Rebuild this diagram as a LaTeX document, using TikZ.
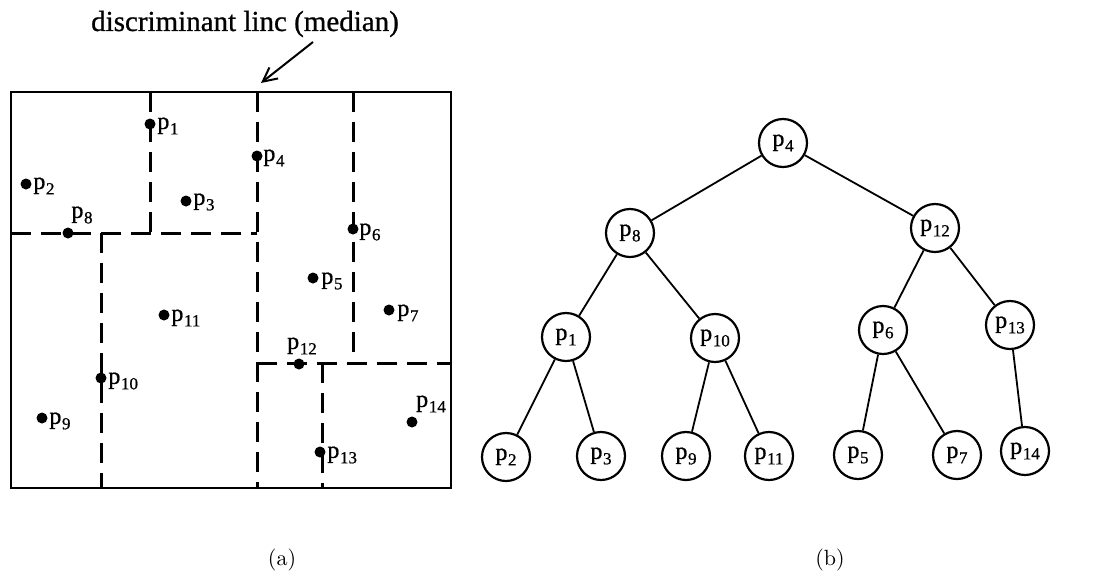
\documentclass[tikz,border=0pt]{standalone}
\usepackage{fontspec}
\usetikzlibrary{arrows.meta}
\setmainfont{Liberation Serif}
\newfontfamily\scanfont[FakeBold=0.8]{Liberation Serif}
\newfontfamily\capfont{Latin Modern Roman}
\newcommand{\pl}[1]{p\kern0.3pt\raisebox{-0.5ex}{\fontsize{8.5}{9}\selectfont #1}}
\begin{document}
\begin{tikzpicture}[x=0.5pt,y=-0.5pt,
  frame/.style={line width=1.1pt},
  split/.style={line width=1.5pt, dash pattern=on 10pt off 5pt},
  pt/.style={circle, fill=black, inner sep=0pt, minimum size=5.5pt},
  plab/.style={font=\scanfont\fontsize{12}{13}\selectfont, inner sep=1pt},
  tn/.style={circle, draw, line width=1.1pt, minimum size=24pt, inner sep=0pt, font=\scanfont\fontsize{12}{13}\selectfont},
  treeedge/.style={line width=0.9pt},
  captext/.style={font=\capfont\fontsize{11}{12}\selectfont}]
\useasboundingbox (0,0) rectangle (1099,580);
% ---------- (a) ----------
\coordinate (TL) at (11,92);
\coordinate (BR) at (451,488);
\draw[frame] (TL) rectangle (BR);
\coordinate (m1) at (257,92);  \coordinate (m2) at (257,488);
\coordinate (a1) at (150,92);  \coordinate (a2) at (150,233);
\coordinate (h1) at (11,233);  \coordinate (h2) at (257,233);
\coordinate (b1) at (101,233); \coordinate (b2) at (101,488);
\coordinate (c1) at (353,92);  \coordinate (c2) at (353,363);
\coordinate (g1) at (257,363); \coordinate (g2) at (451,363);
\coordinate (d1) at (322,363); \coordinate (d2) at (322,488);
\draw[split] (m1) -- (m2);
\draw[split] (a1) -- (a2);
\draw[split] (h1) -- (h2);
\draw[split] (b1) -- (b2);
\draw[split] (c1) -- (c2);
\draw[split] (g1) -- (g2);
\draw[split] (d1) -- (d2);
% points
\node[pt] (q1) at (150,124) {};
\node[pt] (q2) at (26,184) {};
\node[pt] (q3) at (186,201) {};
\node[pt] (q4) at (257,156) {};
\node[pt] (q5) at (313,278) {};
\node[pt] (q6) at (353,229) {};
\node[pt] (q7) at (389,310) {};
\node[pt] (q8) at (68,233) {};
\node[pt] (q9) at (42,418) {};
\node[pt] (q10) at (101,378) {};
\node[pt] (q11) at (164,315) {};
\node[pt] (q12) at (299,364) {};
\node[pt] (q13) at (320,452) {};
\node[pt] (q14) at (412,422) {};
\node[plab, anchor=west] (l1) at (155,126) {\pl{1}};
\node[plab, anchor=west] (l2) at (31,186) {\pl{2}};
\node[plab, anchor=west] (l3) at (191,202) {\pl{3}};
\node[plab, anchor=west] (l4) at (261,158) {\pl{4}};
\node[plab, anchor=west] (l5) at (319,281) {\pl{5}};
\node[plab, anchor=west] (l6) at (357,232) {\pl{6}};
\node[plab, anchor=west] (l7) at (395,313) {\pl{7}};
\node[plab] (l8) at (82,215) {\pl{8}};
\node[plab, anchor=west] (l9) at (47,421) {\pl{9}};
\node[plab, anchor=west] (l10) at (106,381) {\pl{10}};
\node[plab, anchor=west] (l11) at (169,318) {\pl{11}};
\node[plab] (l12) at (302,346) {\pl{12}};
\node[plab, anchor=west] (l13) at (325,455) {\pl{13}};
\node[plab] (l14) at (431,404) {\pl{14}};
% title and arrow
\node[font=\scanfont\fontsize{14.5}{16}\selectfont] (title) at (245,24) {discriminant linc (median)};
\coordinate (arS) at (313,42);
\coordinate (arE) at (261,83);
\draw[line width=1pt, -{Straight Barb[length=7pt,width=7pt]}] (arS) -- (arE);
\node[captext] (capa) at (282,560) {(a)};
% ---------- (b) ----------
\node[tn] (t4) at (783,143) {\pl{4}};
\node[tn] (t8) at (630,233) {\pl{8}};
\node[tn] (t12) at (935,228) {\pl{12}};
\node[tn] (t1) at (566,337) {\pl{1}};
\node[tn] (t10) at (715,338) {\pl{10}};
\node[tn] (t6) at (883,330) {\pl{6}};
\node[tn] (t13) at (1010,325) {\pl{13}};
\node[tn] (t2) at (506,457) {\pl{2}};
\node[tn] (t3) at (601,456) {\pl{3}};
\node[tn] (t9) at (686,456) {\pl{9}};
\node[tn] (t11) at (769,456) {\pl{11}};
\node[tn] (t5) at (858,455) {\pl{5}};
\node[tn] (t7) at (957,455) {\pl{7}};
\node[tn] (t14) at (1025,451) {\pl{14}};
\draw[treeedge] (t4) -- (t8);
\draw[treeedge] (t4) -- (t12);
\draw[treeedge] (t8) -- (t1);
\draw[treeedge] (t8) -- (t10);
\draw[treeedge] (t12) -- (t6);
\draw[treeedge] (t12) -- (t13);
\draw[treeedge] (t1) -- (t2);
\draw[treeedge] (t1) -- (t3);
\draw[treeedge] (t10) -- (t9);
\draw[treeedge] (t10) -- (t11);
\draw[treeedge] (t6) -- (t5);
\draw[treeedge] (t6) -- (t7);
\draw[treeedge] (t13) -- (t14);
\node[captext] (capb) at (830,560) {(b)};
\end{tikzpicture}
\end{document}
